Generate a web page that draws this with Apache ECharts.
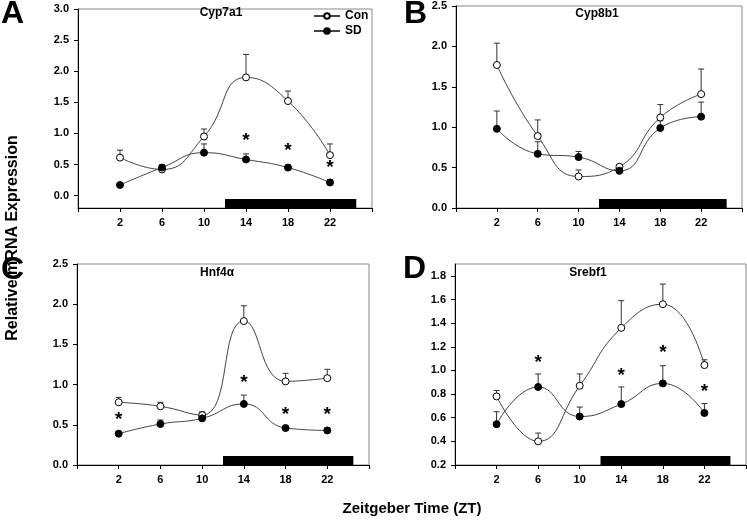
<!DOCTYPE html>
<html><head><meta charset="utf-8">
<script src="https://cdn.jsdelivr.net/npm/echarts@6/dist/echarts.min.js"></script>
<style>html,body{margin:0;padding:0;background:#fff}#c{width:747px;height:527px}</style>
</head><body><div id="c"></div>
<script>
// ---- data ----
const zt = [2, 6, 10, 14, 18, 22];
const xTickValues = [-2, 2, 6, 10, 14, 18, 22, 26];
const nightPeriod = [12, 24.5];

const cyp7a1Con      = [0.61, 0.42, 0.95, 1.90, 1.52, 0.65];
const cyp7a1ConUpper = [0.73, 0.49, 1.07, 2.27, 1.68, 0.83];
const cyp7a1SD       = [0.17, 0.45, 0.69, 0.58, 0.45, 0.21];
const cyp7a1SDUpper  = [0.20, 0.49, 0.83, 0.67, 0.49, 0.26];
const cyp7a1Stars    = [[14, 0.95], [18, 0.79], [22, 0.51]];
const cyp7a1YTicks   = [0, 0.5, 1.0, 1.5, 2.0, 2.5, 3.0];

const cyp8b1Con      = [1.77, 0.89, 0.39, 0.51, 1.12, 1.41];
const cyp8b1ConUpper = [2.04, 1.09, 0.47, 0.53, 1.28, 1.72];
const cyp8b1SD       = [0.98, 0.67, 0.63, 0.46, 0.99, 1.13];
const cyp8b1SDUpper  = [1.20, 0.82, 0.70, 0.51, 1.08, 1.31];
const cyp8b1Stars    = [];
const cyp8b1YTicks   = [0, 0.5, 1.0, 1.5, 2.0, 2.5];

const hnf4aCon       = [0.78, 0.73, 0.62, 1.79, 1.04, 1.08];
const hnf4aConUpper  = [0.84, 0.78, 0.66, 1.98, 1.14, 1.19];
const hnf4aSD        = [0.39, 0.51, 0.58, 0.76, 0.46, 0.43];
const hnf4aSDUpper   = [0.41, 0.56, 0.63, 0.87, 0.48, 0.46];
const hnf4aStars     = [[2, 0.61], [14, 1.07], [18, 0.68], [22, 0.67]];
const hnf4aYTicks    = [0, 0.5, 1.0, 1.5, 2.0, 2.5];

const srebf1Con      = [0.78, 0.40, 0.87, 1.36, 1.56, 1.045];
const srebf1ConUpper = [0.83, 0.47, 0.97, 1.59, 1.73, 1.09];
const srebf1SD       = [0.545, 0.86, 0.61, 0.715, 0.89, 0.64];
const srebf1SDUpper  = [0.65, 0.97, 0.69, 0.86, 1.04, 0.72];
const srebf1Stars    = [[6, 1.10], [14, 0.99], [18, 1.18], [22, 0.85]];
const srebf1YTicks   = [0.2, 0.4, 0.6, 0.8, 1.0, 1.2, 1.4, 1.6, 1.8];

// ---- layout ----
const FONT = 'Arial, "Liberation Sans", sans-serif';
const panels = [
  {title: 'Cyp7a1', letter: 'A', con: cyp7a1Con, conUp: cyp7a1ConUpper, sd: cyp7a1SD, sdUp: cyp7a1SDUpper, stars: cyp7a1Stars, yTicks: cyp7a1YTicks,
   yMin: -0.2, yMax: 3.0, grid: {left: 78, top: 9, width: 294, height: 199}, titlePos: [221, 13], letterPos: [1, 14]},
  {title: 'Cyp8b1', letter: 'B', con: cyp8b1Con, conUp: cyp8b1ConUpper, sd: cyp8b1SD, sdUp: cyp8b1SDUpper, stars: cyp8b1Stars, yTicks: cyp8b1YTicks,
   yMin: 0, yMax: 2.5, grid: {left: 456, top: 6, width: 286, height: 202}, titlePos: [597, 14], letterPos: [404, 14]},
  {title: 'Hnf4\u03b1', letter: 'C', con: hnf4aCon, conUp: hnf4aConUpper, sd: hnf4aSD, sdUp: hnf4aSDUpper, stars: hnf4aStars, yTicks: hnf4aYTicks,
   yMin: 0, yMax: 2.5, grid: {left: 77, top: 264, width: 292, height: 201}, titlePos: [217, 273], letterPos: [1, 270]},
  {title: 'Srebf1', letter: 'D', con: srebf1Con, conUp: srebf1ConUpper, sd: srebf1SD, sdUp: srebf1SDUpper, stars: srebf1Stars, yTicks: srebf1YTicks,
   yMin: 0.2, yMax: 1.9, grid: {left: 455, top: 264, width: 291, height: 201}, titlePos: [588, 273], letterPos: [403, 269]}
];

function errRender(params, api) {
  const x = api.value(0), m = api.value(1), u = api.value(2);
  const p0 = api.coord([x, m]), p1 = api.coord([x, u]);
  return {type: 'group', children: [
    {type: 'line', shape: {x1: p0[0], y1: p0[1], x2: p1[0], y2: p1[1]}, style: {stroke: '#333', lineWidth: 1}},
    {type: 'line', shape: {x1: p1[0] - 3, y1: p1[1], x2: p1[0] + 3, y2: p1[1]}, style: {stroke: '#333', lineWidth: 1}}
  ]};
}
function nightRender(params, api) {
  const cs = params.coordSys;
  const a = api.coord([api.value(0), 1])[0];
  const b = api.coord([api.value(1), 1])[0];
  return {type: 'rect', shape: {x: a, y: cs.y + cs.height - 9, width: b - a, height: 9}, style: {fill: '#000'}};
}
function starRender(params, api) {
  const p = api.coord([api.value(0), api.value(1)]);
  return {type: 'text', x: p[0], y: p[1] + 4, style: {text: '*', font: 'bold 19px ' + FONT, align: 'center', verticalAlign: 'middle', fill: '#000'}};
}

const grids = [], xAxes = [], yAxes = [], series = [], graphics = [];
panels.forEach((p, i) => {
  grids.push(Object.assign({show: true, borderColor: '#888', borderWidth: 1, backgroundColor: 'transparent'}, p.grid));
  xAxes.push({type: 'value', gridIndex: i, min: -2, max: 26,
    axisLine: {show: true, onZero: false, lineStyle: {color: '#000', width: 1}},
    axisTick: {show: true, length: 4, customValues: xTickValues, lineStyle: {color: '#000'}},
    axisLabel: {customValues: zt, margin: 9, color: '#000', fontFamily: FONT, fontWeight: 'bold', fontSize: 11},
    splitLine: {show: false}});
  yAxes.push({type: 'value', gridIndex: i, min: p.yMin, max: p.yMax,
    axisLine: {show: true, onZero: false, lineStyle: {color: '#000', width: 1}},
    axisTick: {show: true, length: 4, customValues: p.yTicks, lineStyle: {color: '#000'}},
    axisLabel: {customValues: p.yTicks, margin: 9, color: '#000', fontFamily: FONT, fontWeight: 'bold', fontSize: 11,
      formatter: v => Number(v).toFixed(1)},
    splitLine: {show: false}});
  series.push({type: 'custom', name: 'night', xAxisIndex: i, yAxisIndex: i, renderItem: nightRender, data: [nightPeriod], z: 1, silent: true});
  series.push({type: 'custom', name: 'conErr', xAxisIndex: i, yAxisIndex: i, renderItem: errRender, z: 2,
    data: zt.map((x, j) => [x, p.con[j], p.conUp[j]])});
  series.push({type: 'custom', name: 'sdErr', xAxisIndex: i, yAxisIndex: i, renderItem: errRender, z: 2,
    data: zt.map((x, j) => [x, p.sd[j], p.sdUp[j]])});
  series.push({type: 'line', name: 'Con', xAxisIndex: i, yAxisIndex: i, smooth: 0.5, z: 3,
    symbol: 'circle', symbolSize: 7, showAllSymbol: true,
    lineStyle: {color: '#444', width: 1}, itemStyle: {color: '#fff', borderColor: '#000', borderWidth: 1},
    data: zt.map((x, j) => [x, p.con[j]])});
  series.push({type: 'line', name: 'SD', xAxisIndex: i, yAxisIndex: i, smooth: 0.5, z: 4,
    symbol: 'circle', symbolSize: 7, showAllSymbol: true,
    lineStyle: {color: '#444', width: 1}, itemStyle: {color: '#000', borderColor: '#000', borderWidth: 1},
    data: zt.map((x, j) => [x, p.sd[j]])});
  series.push({type: 'custom', name: 'stars', xAxisIndex: i, yAxisIndex: i, renderItem: starRender, z: 5, data: p.stars});
  graphics.push({type: 'text', x: p.titlePos[0], y: p.titlePos[1],
    style: {text: p.title, font: 'bold 12px ' + FONT, fill: '#000', align: 'center', verticalAlign: 'middle'}});
  graphics.push({type: 'text', x: p.letterPos[0], y: p.letterPos[1],
    style: {text: p.letter, font: 'bold 32px ' + FONT, fill: '#000', align: 'left', verticalAlign: 'middle'}});
});
graphics.push({type: 'text', x: 13, y: 238, rotation: Math.PI / 2,
  style: {text: 'Relative mRNA Expression', font: 'bold 16px ' + FONT, fill: '#000', align: 'center', verticalAlign: 'middle'}});
graphics.push({type: 'text', x: 412, y: 509,
  style: {text: 'Zeitgeber Time (ZT)', font: 'bold 15px ' + FONT, fill: '#000', align: 'center', verticalAlign: 'middle'}});

const chart = echarts.init(document.getElementById('c'), null, {renderer: 'canvas'});
chart.setOption({
  animation: false,
  backgroundColor: '#fff',
  grid: grids, xAxis: xAxes, yAxis: yAxes, series: series,
  legend: {data: ['Con', 'SD'], orient: 'vertical', left: 308, top: 5, itemGap: 3, itemWidth: 26, itemHeight: 7,
    textStyle: {fontFamily: FONT, fontWeight: 'bold', fontSize: 12, color: '#000'}, selectedMode: false},
  graphic: graphics
});
</script></body></html>
